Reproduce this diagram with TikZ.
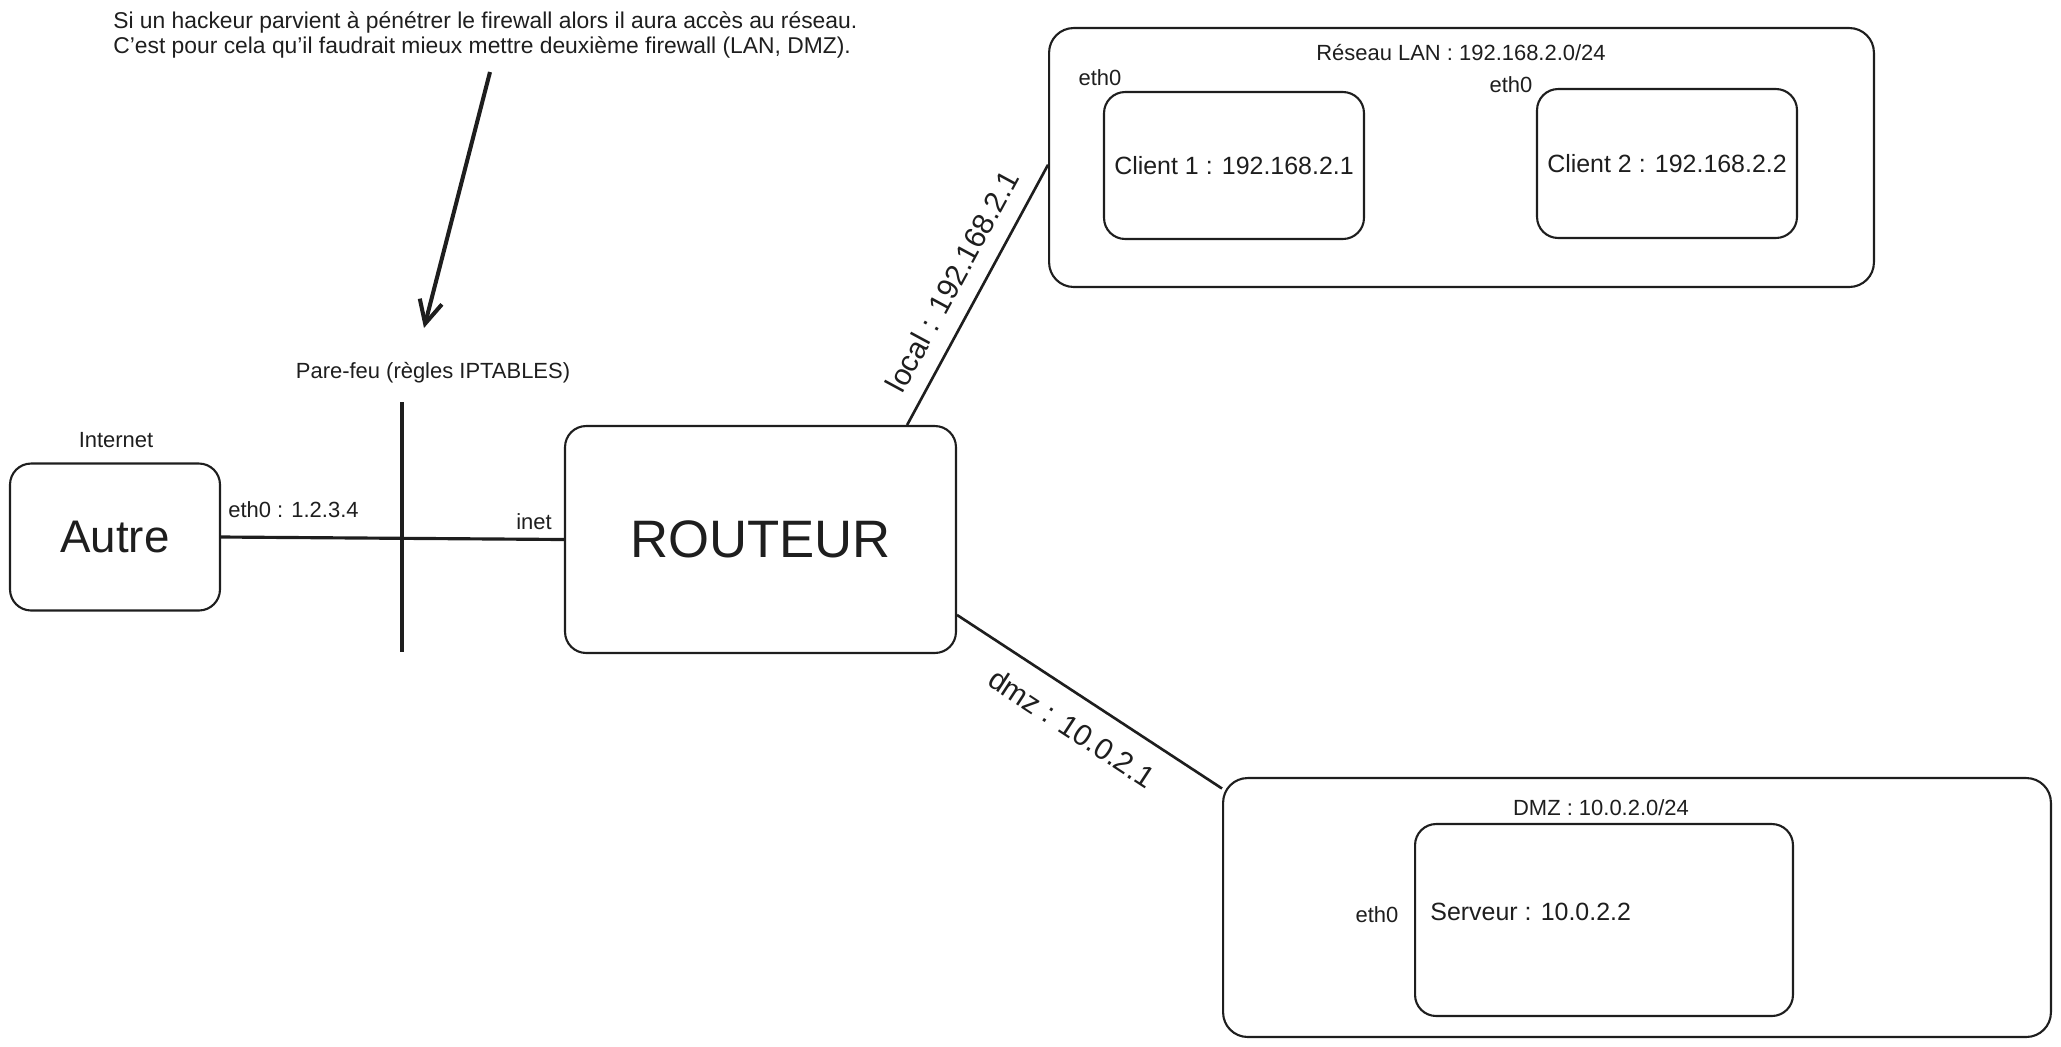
\documentclass[tikz,border=0pt]{standalone}
\usepackage{fontspec}
\setmainfont{Liberation Sans}
\usepackage{tikz}
\usetikzlibrary{arrows.meta}
\usepackage{xcolor}
\definecolor{Ink}{HTML}{1E1E1E}
\tikzset{
  netbox/.style={draw=Ink, line width=1.2pt, rounded corners=14pt},
  hostbox/.style={draw=Ink, line width=1.2pt, rounded corners=12pt,
                  text=Ink, font=\fontsize{14.2}{17}\selectfont},
  lbl/.style={text=Ink, font=\fontsize{12.5}{15}\selectfont, inner sep=0pt},
  linklbl/.style={text=Ink, font=\fontsize{17}{20}\selectfont, inner sep=2pt, sloped, midway},
  wire/.style={draw=Ink, line width=1.5pt},
}

\begin{document}
\begin{tikzpicture}[x=0.02cm, y=-0.02cm]
\useasboundingbox (0,0) rectangle (2061,1046);

% ── Note ──────────────────────────────────────────────────────────────────────
\node[lbl, anchor=west, align=left, font=\fontsize{13}{14.2}\selectfont] (note) at (113,35)
  {Si un hackeur parvient à pénétrer le firewall alors il aura accès au réseau.\\
   C'est pour cela qu'il faudrait mieux mettre deuxième firewall (LAN, DMZ).};
\coordinate (note-tail) at (490,72);
\coordinate (note-tip) at (424,328);
\draw[-{Straight Barb[length=13pt, width=13pt]}, Ink, line width=2.3pt]
  (note-tail) -- (note-tip);

% ── Pare-feu ──────────────────────────────────────────────────────────────────
\coordinate (fw-top) at (402,402);
\coordinate (fw-bot) at (402,652);
\draw[Ink, line width=2.4pt] (fw-top) -- (fw-bot);
\node[lbl] (fw-lbl) at (433,373) {Pare-feu (règles IPTABLES)};

% ── Internet ──────────────────────────────────────────────────────────────────
\node[hostbox, minimum width=4.2cm, minimum height=2.94cm,
      font=\fontsize{26}{30}\selectfont] (autre) at (115,537) {Autre};
\node[lbl] (internet) at (116,440) {Internet};
\node[lbl, anchor=west] (autre-eth) at (228,510) {eth0 : 1.2.3.4};

% ── Routeur ───────────────────────────────────────────────────────────────────
\node[hostbox, minimum width=7.82cm, minimum height=4.54cm,
      font=\fontsize{30}{34}\selectfont] (routeur) at (760.5,539.5) {ROUTEUR};
\node[lbl] (inet) at (534,522) {inet};
\draw[wire, line width=1.8pt] (autre.east) -- (routeur.west);

% ── Réseau LAN ────────────────────────────────────────────────────────────────
\node[netbox, minimum width=16.5cm, minimum height=5.18cm] (lan) at (1461.5,157.5) {};
\node[lbl] (lan-lbl) at (1461,53) {Réseau LAN : 192.168.2.0/24};
\node[hostbox, minimum width=5.2cm, minimum height=2.94cm] (client1) at (1234,165.5)
  {Client 1 : 192.168.2.1};
\node[hostbox, minimum width=5.2cm, minimum height=2.98cm] (client2) at (1667,163.5)
  {Client 2 : 192.168.2.2};
\node[lbl] (c1-eth) at (1100,78) {eth0};
\node[lbl] (c2-eth) at (1511,85) {eth0};

% ── DMZ ───────────────────────────────────────────────────────────────────────
\node[netbox, minimum width=16.56cm, minimum height=5.18cm] (dmz) at (1637,907.5) {};
\node[lbl] (dmz-lbl) at (1601,808) {DMZ : 10.0.2.0/24};
\node[hostbox, minimum width=7.56cm, minimum height=3.84cm] (serveur) at (1604,920) {};
\node[lbl, anchor=west, font=\fontsize{14.2}{17}\selectfont] (srv-txt) at (1430,912)
  {Serveur : 10.0.2.2};
\node[lbl] (srv-eth) at (1377,915) {eth0};

% ── Liaisons ──────────────────────────────────────────────────────────────────
\draw[wire] (routeur.38) -- node[linklbl, above=7.4pt] (local-lbl) {local : 192.168.2.1} (lan.181);
\draw[wire] (routeur.339) -- node[linklbl, below=9pt] (dmz-link) {dmz : 10.0.2.1} (dmz.164);

\end{tikzpicture}
\end{document}
